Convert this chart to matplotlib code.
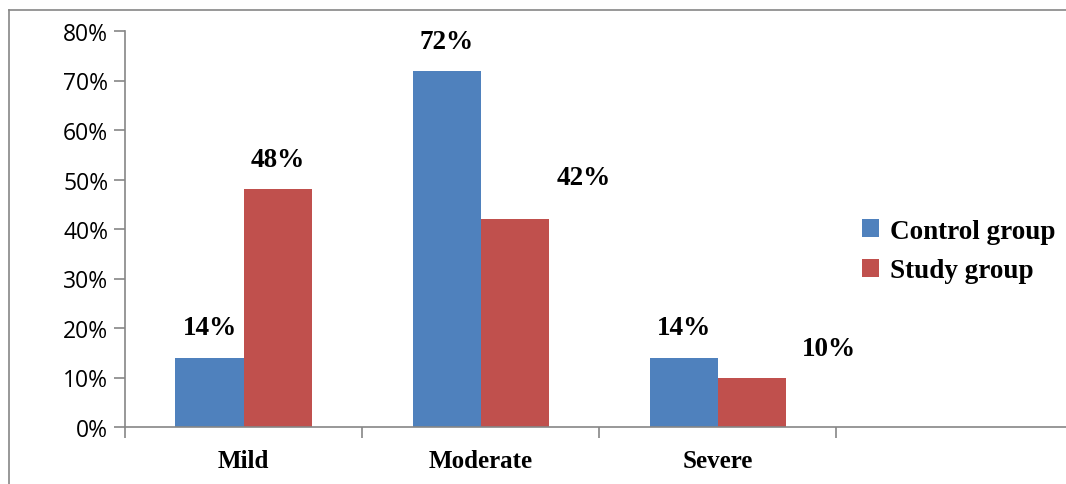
import numpy as np
import matplotlib.pyplot as plt
from matplotlib.lines import Line2D
from matplotlib.ticker import PercentFormatter

# --- data ---
categories = ["Mild", "Moderate", "Severe"]
control = [14, 72, 14]
study = [48, 42, 10]
series_names = ["Control group", "Study group"]

# label placement (offset of text from bar, in data units)
ctrl_label_dx = [0.0, 0.0, 0.0]
ctrl_label_dy = [6.2, 5.8, 6.2]
study_label_dx = [0.0, 0.29, 0.325]
study_label_dy = [6.0, 8.5, 5.8]

blue = "#4F81BD"
red = "#C0504D"
grey = "#868686"
serif = ["Liberation Serif", "DejaVu Serif"]

fig = plt.figure(figsize=(10.66, 4.85), dpi=100)
ax = fig.add_axes([125 / 1066, 57 / 485, 1 - 125 / 1066, 396 / 485])

x = np.arange(len(categories))
w = 0.287
ax.bar(x - w / 2, control, w, color=blue, label=series_names[0])
ax.bar(x + w / 2, study, w, color=red, label=series_names[1])

for i in range(len(categories)):
    ax.text(x[i] - w / 2 + ctrl_label_dx[i], control[i] + ctrl_label_dy[i], f"{control[i]}%",
            ha="center", va="center", family=serif, fontweight="bold", fontsize=19.5)
    ax.text(x[i] + w / 2 + study_label_dx[i], study[i] + study_label_dy[i], f"{study[i]}%",
            ha="center", va="center", family=serif, fontweight="bold", fontsize=19.5)

ax.set_xlim(-0.5, 3.47)
ax.set_ylim(0, 80)
ax.set_yticks(np.arange(0, 81, 10))
ax.yaxis.set_major_formatter(PercentFormatter(decimals=0))
ax.tick_params(axis="y", length=8, color=grey, width=1.2, labelsize=16.5, pad=4)
for lab in ax.get_yticklabels():
    lab.set_family(["Open Sans", "DejaVu Sans"])

ax.set_xticks(x)
ax.set_xticklabels(categories, family=serif, fontweight="bold", fontsize=18)
ax.tick_params(axis="x", which="major", length=0, pad=16)
ax.set_xticks([-0.5, 0.5, 1.5, 2.5], minor=True)
ax.tick_params(axis="x", which="minor", length=8, color=grey, width=1.2)

for s in ["top", "right"]:
    ax.spines[s].set_visible(False)
for s in ["left", "bottom"]:
    ax.spines[s].set_color(grey)
    ax.spines[s].set_linewidth(1.2)

leg = ax.legend(loc="center left", bbox_to_anchor=(838 / 1066, 1 - 252 / 485),
                bbox_transform=fig.transFigure, frameon=False,
                handlelength=0.62, handleheight=0.62, handletextpad=0.4, labelspacing=0.55,
                prop={"family": serif, "weight": "bold", "size": 19.5})

# outer frame of the picture
fig.add_artist(Line2D([9 / 1066, 1], [1 - 11 / 485] * 2, color=grey, lw=1.2))
fig.add_artist(Line2D([9 / 1066] * 2, [0, 1 - 11 / 485], color=grey, lw=1.2))

fig.savefig("out.png", dpi=100)
